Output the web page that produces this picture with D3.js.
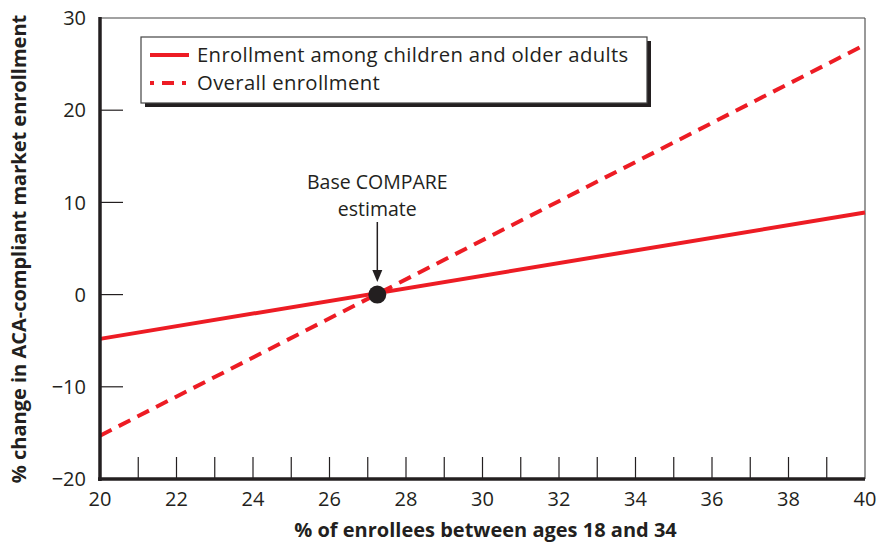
<!DOCTYPE html>
<html><head><meta charset="utf-8">
<script src="https://cdn.jsdelivr.net/npm/d3@7"></script>
<style>body{margin:0;background:#fff}svg{display:block}text{font-family:"Open Sans",sans-serif;fill:#231f20}</style>
</head><body>
<svg id="c" width="878" height="552"></svg>
<script>
const xDomain = [20, 40];
const yDomain = [-20, 30];
const xTickLabels = [20, 22, 24, 26, 28, 30, 32, 34, 36, 38, 40];
const xMinorTicks = [21, 22, 23, 24, 25, 26, 27, 28, 29, 30, 31, 32, 33, 34, 35, 36, 37, 38, 39];
const yTickLabels = [-20, -10, 0, 10, 20, 30];
const childrenOlder = [{x: 20, y: -4.8}, {x: 40, y: 8.9}];
const overall = [{x: 20, y: -15.3}, {x: 40, y: 27.1}];
const baseEstimate = {x: 27.25, y: 0};
const legendLabels = ["Enrollment among children and older adults", "Overall enrollment"];
const annotationLines = ["Base COMPARE", "estimate"];

const svg = d3.select("#c");
const L = 100, R = 865, T = 18, B = 479;
const x = d3.scaleLinear().domain(xDomain).range([L, R]);
const y = d3.scaleLinear().domain(yDomain).range([B, T]);
const red = "#ed1c24";

// frame (top/right thin)
svg.append("line").attr("x1", L).attr("x2", R).attr("y1", T).attr("y2", T).attr("stroke", "#444").attr("stroke-width", 1.2);
svg.append("line").attr("x1", R).attr("x2", R).attr("y1", T).attr("y2", B).attr("stroke", "#555").attr("stroke-width", 1.2);

// y ticks (inward)
svg.append("g").selectAll("line").data(yTickLabels.filter(d => d > -20 && d < 30)).join("line")
  .attr("x1", L).attr("x2", L + 23).attr("y1", d => y(d)).attr("y2", d => y(d)).attr("stroke", "#231f20").attr("stroke-width", 1.2);
svg.append("g").selectAll("text").data(yTickLabels).join("text")
  .attr("x", 86).attr("y", d => y(d)).attr("dy", "0.36em").attr("text-anchor", "end")
  .attr("font-size", 20).text(d => d < 0 ? "\u2212" + Math.abs(d) : d);

// x ticks (inward)
svg.append("g").selectAll("line").data(xMinorTicks).join("line")
  .attr("x1", d => x(d)).attr("x2", d => x(d)).attr("y1", B).attr("y2", B - 22).attr("stroke", "#231f20").attr("stroke-width", 1.2);
svg.append("g").selectAll("text").data(xTickLabels).join("text")
  .attr("x", d => x(d)).attr("y", 506).attr("text-anchor", "middle")
  .attr("font-size", 20).text(d => d);

// lines
const line = d3.line().x(d => x(d.x)).y(d => y(d.y));
svg.append("path").datum(childrenOlder).attr("d", line).attr("fill", "none").attr("stroke", red).attr("stroke-width", 4);
svg.append("path").datum(overall).attr("d", line).attr("fill", "none").attr("stroke", red).attr("stroke-width", 4).attr("stroke-dasharray", "13,8");

// axes thick
svg.append("line").attr("x1", L).attr("x2", L).attr("y1", T - 1).attr("y2", B + 2).attr("stroke", "#231f20").attr("stroke-width", 3.5);
svg.append("line").attr("x1", L - 2).attr("x2", R).attr("y1", B).attr("y2", B).attr("stroke", "#231f20").attr("stroke-width", 3.5);

// base estimate dot + arrow + label
const bx = x(baseEstimate.x), by = y(baseEstimate.y);
svg.append("circle").attr("cx", bx).attr("cy", by).attr("r", 9).attr("fill", "#231f20");
svg.append("line").attr("x1", bx).attr("x2", bx).attr("y1", 222).attr("y2", 272).attr("stroke", "#231f20").attr("stroke-width", 1.5);
svg.append("path").attr("d", `M${bx - 5},${270} L${bx + 5},${270} L${bx},${282} Z`).attr("fill", "#231f20");
svg.append("text").attr("x", bx).attr("y", 189).attr("text-anchor", "middle").attr("font-size", 19.5)
  .selectAll("tspan").data(annotationLines).join("tspan")
  .attr("x", bx).attr("dy", (d, i) => i === 0 ? 0 : 26.5).text(d => d);

// legend
const lg = svg.append("g");
lg.append("rect").attr("x", 145).attr("y", 41).attr("width", 506).attr("height", 66).attr("fill", "#231f20");
lg.append("rect").attr("x", 141).attr("y", 37).attr("width", 506).attr("height", 66).attr("fill", "#fff").attr("stroke", "#444").attr("stroke-width", 1.2);
lg.append("line").attr("x1", 150).attr("x2", 189).attr("y1", 55).attr("y2", 55).attr("stroke", red).attr("stroke-width", 4);
lg.append("line").attr("x1", 150).attr("x2", 189).attr("y1", 83).attr("y2", 83).attr("stroke", red).attr("stroke-width", 4).attr("stroke-dasharray", "4,8,12,8,4");
lg.selectAll("text.leg").data(legendLabels).join("text").attr("class", "leg")
  .attr("x", 197).attr("y", (d, i) => 55 + i * 28).attr("dy", "0.36em").attr("font-size", 20.3)
  .attr("letter-spacing", 0.35).text(d => d);

// axis titles
svg.append("text").attr("x", (L + R) / 2 + 3).attr("y", 537).attr("text-anchor", "middle")
  .attr("font-size", 20).attr("font-weight", "bold").text("% of enrollees between ages 18 and 34");
svg.append("text").attr("transform", "translate(26,249) rotate(-90)").attr("text-anchor", "middle")
  .attr("font-size", 20).attr("font-weight", "bold").text("% change in ACA-compliant market enrollment");
</script>
</body></html>
